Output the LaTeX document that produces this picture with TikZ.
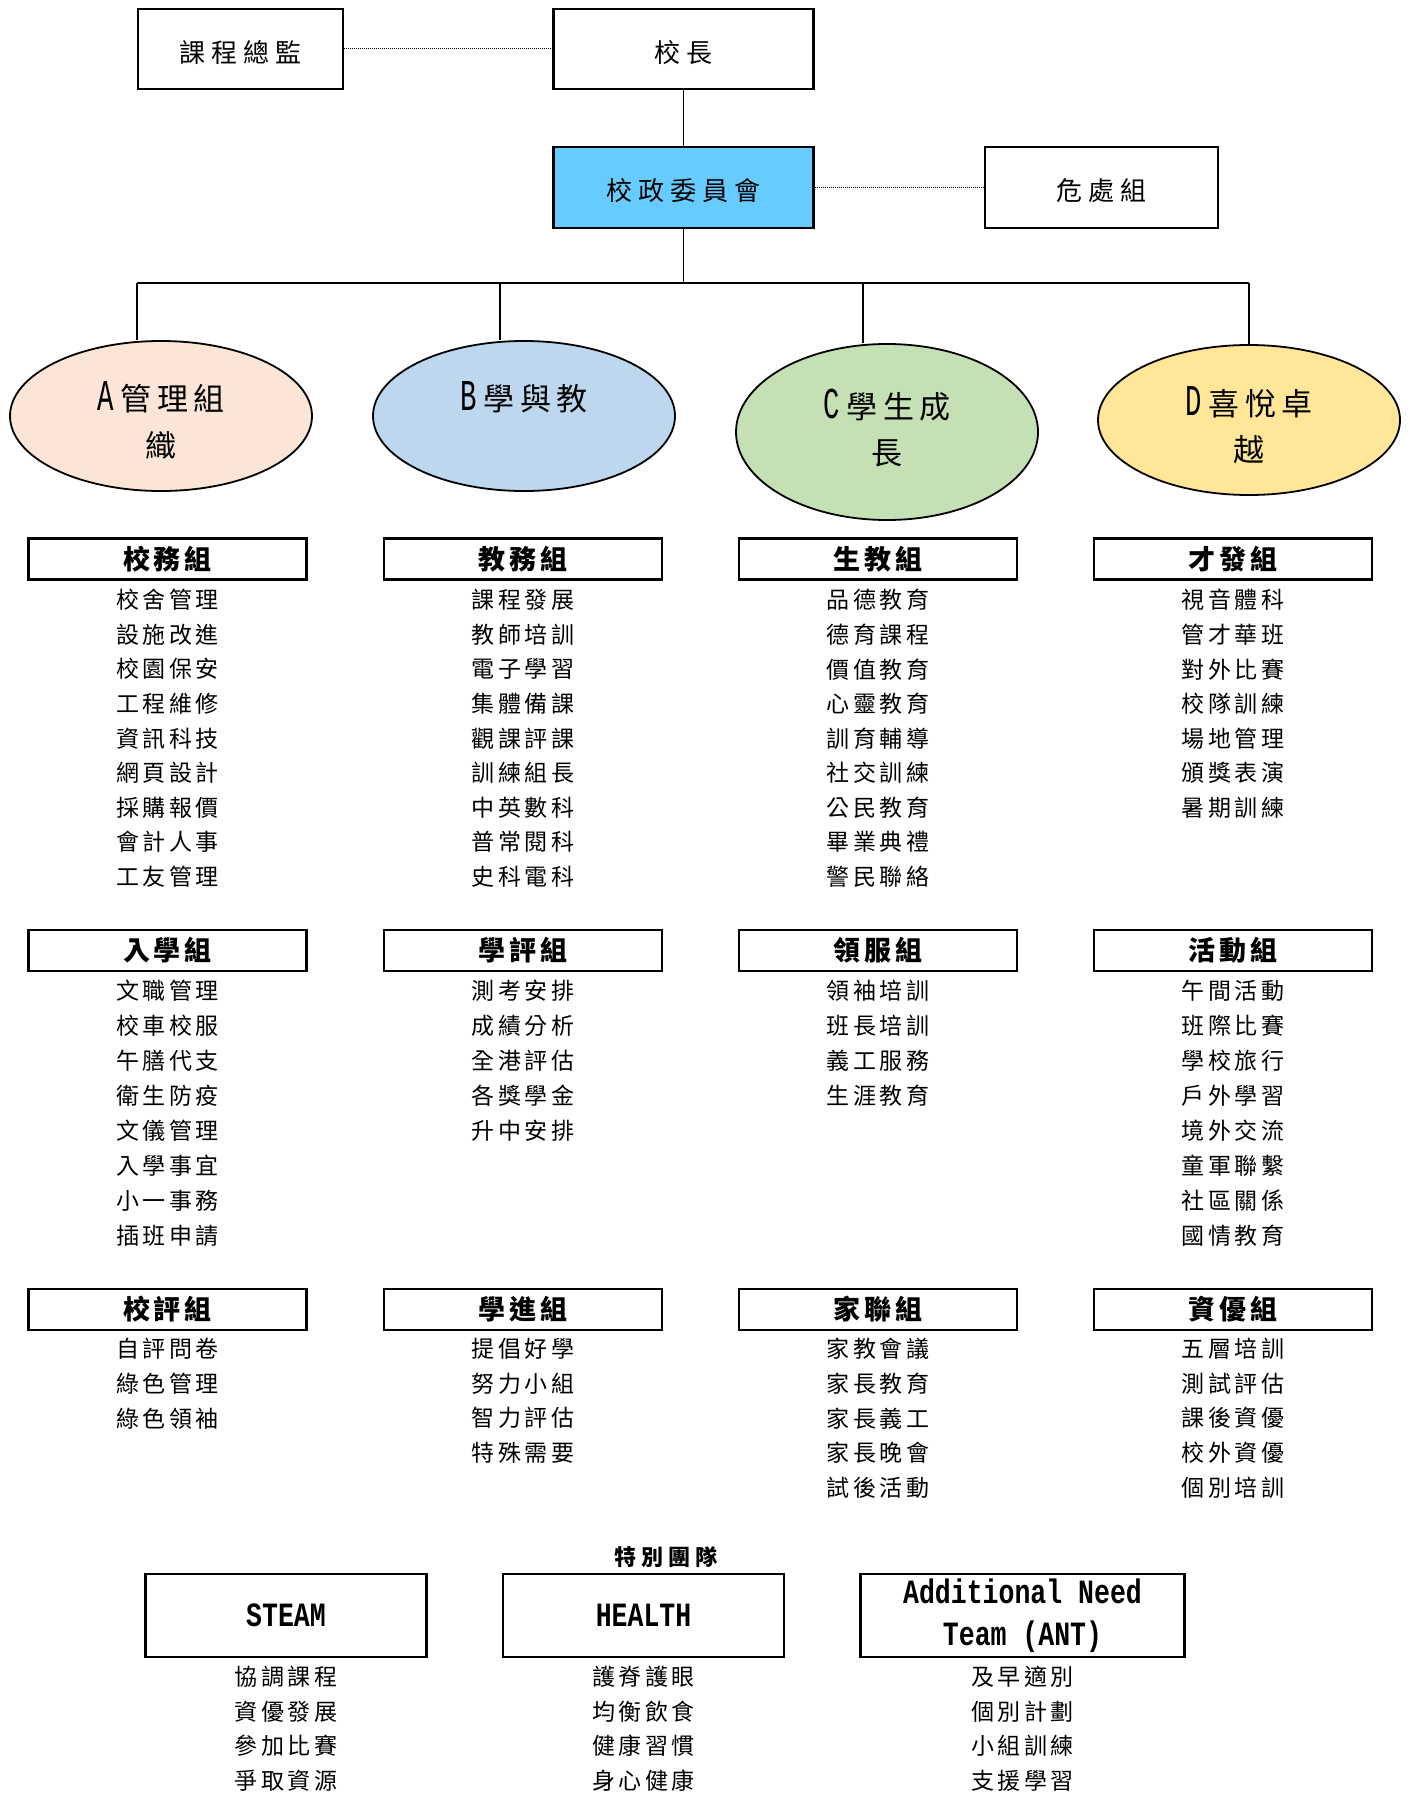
\documentclass[tikz,border=0pt]{standalone}
\usepackage{fontspec}
\newfontfamily\cjktop{Noto Sans CJK TC}[LetterSpace=24]
\newfontfamily\cjkell{Noto Sans CJK TC}[LetterSpace=18]
\newfontfamily\cjkitem{Noto Sans CJK TC}[LetterSpace=15]
\newfontfamily\cjkhead{Noto Sans CJK TC}[LetterSpace=14]
\newfontfamily\cjkspec{Noto Sans CJK TC}[LetterSpace=22]
\newfontfamily\latm{Liberation Mono}[FakeStretch=0.78]
\newfontfamily\latell{Liberation Mono}[FakeStretch=0.62]
\usetikzlibrary{shapes.geometric}
\newcommand\grpitems[5]{%
  \foreach \t [count=\i] in {#5} {\node[itm] (#1-\i) at (#2, {#3+#4*(\i-1)}) {\t};}}
\newcommand\ellL[1]{{\latell\fontsize{44}{44}\selectfont #1}\hspace{7pt}}
\newcommand\lowr[1]{\raisebox{-3.5pt}[\height][\depth]{#1}}
\begin{document}
\begin{tikzpicture}[x=1pt,y=-1pt,
  topbox/.style={draw, line width=2.5pt, minimum height=80pt, inner sep=0pt,
    font=\cjktop\fontsize{26}{30}\selectfont},
  ell/.style={draw, ellipse, line width=1.8pt, minimum width=302pt, inner sep=0pt},
  elltxt/.style={font=\cjkell\fontsize{31}{36}\selectfont, inner sep=0pt},
  hdr/.style={draw, line width=2.5pt, minimum width=278pt, minimum height=41pt, inner sep=0pt,
    font=\cjkhead\bfseries\fontsize{27}{30}\selectfont},
  itm/.style={inner sep=0pt, font=\cjkitem\fontsize{23}{26}\selectfont},
  spbox/.style={draw, line width=2.5pt, minimum height=83pt, inner sep=0pt, align=center,
    font=\latm\bfseries\fontsize{34}{42}\selectfont},
  conn/.style={line width=1.8pt},
  dotc/.style={line width=1pt, densely dotted},
]
\useasboundingbox (0,0) rectangle (1410,1793);

% top boxes
\node[topbox, minimum width=205pt] (kc) at (240.5,49) {\lowr{課程總監}};
\node[topbox, minimum width=260pt] (xz) at (683.5,49) {\lowr{校長}};
\node[topbox, minimum width=260pt, minimum height=81pt, fill={rgb,255:red,102;green,204;blue,255}] (xzw) at (683.5,187.5) {\lowr{校政委員會}};
\node[topbox, minimum width=233pt, minimum height=81pt] (wc) at (1101.5,187.5) {\lowr{危處組}};

\draw[dotc] (kc.east) -- (xz.west);
\draw[dotc] (xzw.east) -- (wc.west);
\draw[conn] (xz.south) -- (xzw.north);

% ellipses
\node[ell, minimum height=150pt, fill={rgb,255:red,251;green,229;blue,214}] (eA) at (161,416) {};
\node[ell, minimum height=150pt, fill={rgb,255:red,189;green,215;blue,238}] (eB) at (524,416) {};
\node[ell, minimum height=176pt, fill={rgb,255:red,197;green,224;blue,180}] (eC) at (887,432) {};
\node[ell, minimum height=150pt, fill={rgb,255:red,255;green,230;blue,153}] (eD) at (1249,420) {};

\coordinate (jc) at (683.5,283);
\coordinate (j1) at (137,283);
\coordinate (j2) at (500,283);
\coordinate (j3) at (863,283);
\coordinate (j4) at (1249,283);
\draw[conn] (xzw.south) -- (jc);
\draw[line width=2.6pt] (j1) -- (j4);
\draw[line width=1.4pt] (j1) -- (j1 |- eA.north);
\draw[line width=1.4pt] (j2) -- (j2 |- eB.north);
\draw[line width=1.4pt] (j3) -- (j3 |- eC.north);
\draw[line width=1.4pt] (j4) -- (eD.north);

\node[elltxt] (tA1) at (161,397) {\ellL{A}管理組};
\node[elltxt] (tA2) at (161,445) {織};
\node[elltxt] (tB1) at (524,397) {\ellL{B}學與教};
\node[elltxt] (tC1) at (887,405) {\ellL{C}學生成};
\node[elltxt] (tC2) at (887,453) {長};
\node[elltxt] (tD1) at (1249,402) {\ellL{D}喜悅卓};
\node[elltxt] (tD2) at (1249,450) {越};

% row 1
\node[hdr] (h11) at (167.5,559) {校務組};
\node[hdr] (h12) at (523,559) {教務組};
\node[hdr] (h13) at (878,559) {生教組};
\node[hdr] (h14) at (1233,559) {才發組};
\grpitems{a1}{167.5}{600}{34.6}{校舍管理,設施改進,校園保安,工程維修,資訊科技,網頁設計,採購報價,會計人事,工友管理}
\grpitems{a2}{523}{600}{34.6}{課程發展,教師培訓,電子學習,集體備課,觀課評課,訓練組長,中英數科,普常閱科,史科電科}
\grpitems{a3}{878}{600}{34.6}{品德教育,德育課程,價值教育,心靈教育,訓育輔導,社交訓練,公民教育,畢業典禮,警民聯絡}
\grpitems{a4}{1233}{600}{34.6}{視音體科,管才華班,對外比賽,校隊訓練,場地管理,頒獎表演,暑期訓練}

% row 2
\node[hdr] (h21) at (167.5,950.5) {入學組};
\node[hdr] (h22) at (523,950.5) {學評組};
\node[hdr] (h23) at (878,950.5) {領服組};
\node[hdr] (h24) at (1233,950.5) {活動組};
\grpitems{b1}{167.5}{990.5}{35}{文職管理,校車校服,午膳代支,衛生防疫,文儀管理,入學事宜,小一事務,插班申請}
\grpitems{b2}{523}{990.5}{35}{測考安排,成績分析,全港評估,各獎學金,升中安排}
\grpitems{b3}{878}{990.5}{35}{領袖培訓,班長培訓,義工服務,生涯教育}
\grpitems{b4}{1233}{990.5}{35}{午間活動,班際比賽,學校旅行,戶外學習,境外交流,童軍聯繫,社區關係,國情教育}

% row 3
\node[hdr] (h31) at (167.5,1309.5) {校評組};
\node[hdr] (h32) at (523,1309.5) {學進組};
\node[hdr] (h33) at (878,1309.5) {家聯組};
\node[hdr] (h34) at (1233,1309.5) {資優組};
\grpitems{c1}{167.5}{1349}{34.6}{自評問卷,綠色管理,綠色領袖}
\grpitems{c2}{523}{1349}{34.6}{提倡好學,努力小組,智力評估,特殊需要}
\grpitems{c3}{878}{1349}{34.6}{家教會議,家長教育,家長義工,家長晚會,試後活動}
\grpitems{c4}{1233}{1349}{34.6}{五層培訓,測試評估,課後資優,校外資優,個別培訓}

% special teams
\node[font=\cjkspec\bfseries\fontsize{22}{26}\selectfont, inner sep=0pt] (sp) at (666,1557) {特別團隊};
\node[spbox, minimum width=281pt] (s1) at (286,1615.5) {STEAM};
\node[spbox, minimum width=281pt] (s2) at (643.5,1615.5) {HEALTH};
\node[spbox, minimum width=324pt] (s3) at (1022.5,1615.5) {Additional Need\\Team (ANT)};
\grpitems{d1}{286}{1677}{34.5}{協調課程,資優發展,參加比賽,爭取資源}
\grpitems{d2}{643.5}{1677}{34.5}{護脊護眼,均衡飲食,健康習慣,身心健康}
\grpitems{d3}{1022.5}{1677}{34.5}{及早適別,個別計劃,小組訓練,支援學習}
\end{tikzpicture}
\end{document}
